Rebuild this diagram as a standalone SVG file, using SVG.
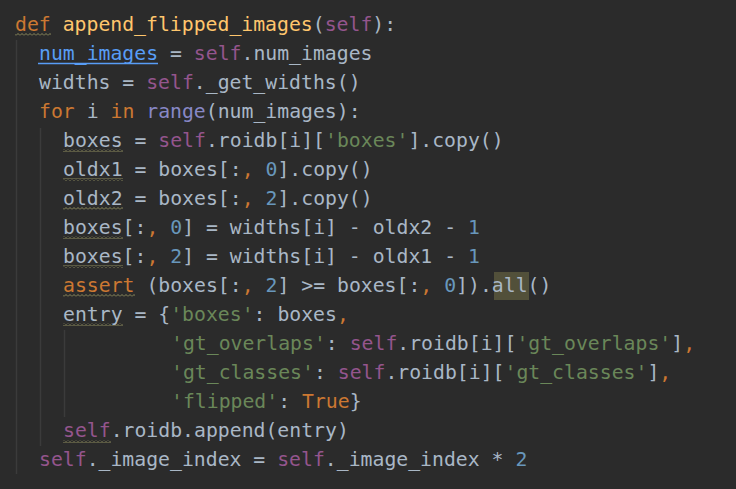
<svg xmlns="http://www.w3.org/2000/svg" width="736" height="489" viewBox="0 0 736 489">
<style>
text{font-family:"DejaVu Sans Mono","Liberation Mono",monospace;font-size:19.8px;fill:#a9b7c6;white-space:pre}
.k{fill:#cc7832}.f{fill:#ffc66d}.s{fill:#94558d}.q{fill:#6a8759}.n{fill:#6897bb}.r{fill:#8888c6}.b{fill:#589df6}
.g{stroke:#3b3b3b;stroke-width:1.5}
</style>
<defs>
<pattern id="w" width="4" height="3" patternUnits="userSpaceOnUse"><path d="M0 2.5L2 0.5L4 2.5" fill="none" stroke="#8c8a5c" stroke-width="1"/></pattern>
</defs>
<rect width="736" height="489" fill="#2b2b2b"/>
<g id="guides">
<line class="g" x1="16.5" y1="40" x2="16.5" y2="474"/>
<line class="g" x1="40.5" y1="128" x2="40.5" y2="446"/>
<line class="g" x1="64.5" y1="330" x2="64.5" y2="417"/>
</g>
<rect x="494" y="272" width="35" height="28" fill="#52503a"/>
<g id="squiggles" fill="url(#w)">
<rect x="15" y="33" width="36" height="3"/>
<rect x="63" y="149" width="60" height="3"/>
<rect x="63" y="178" width="60" height="3"/>
<rect x="63" y="207" width="60" height="3"/>
<rect x="63" y="236" width="60" height="3"/>
<rect x="63" y="265" width="60" height="3"/>
<rect x="63" y="294" width="72" height="3"/>
<rect x="63" y="323" width="60" height="3"/>
<rect x="63" y="440" width="48" height="3"/>
</g>
<line x1="38" y1="63.5" x2="158" y2="63.5" stroke="#589df6" stroke-width="1.3"/>
<g id="code">
<text x="15" y="31"><tspan class="k">def</tspan> <tspan class="f">append_flipped_images</tspan>(<tspan class="s">self</tspan>):</text>
<text x="39" y="60"><tspan class="b">num_images</tspan> = <tspan class="s">self</tspan>.num_images</text>
<text x="39" y="89">widths = <tspan class="s">self</tspan>._get_widths()</text>
<text x="39" y="118"><tspan class="k">for</tspan> i <tspan class="k">in</tspan> <tspan class="r">range</tspan>(num_images):</text>
<text x="63" y="147">boxes = <tspan class="s">self</tspan>.roidb[i][<tspan class="q">'boxes'</tspan>].copy()</text>
<text x="63" y="176">oldx1 = boxes[:<tspan class="k">,</tspan> <tspan class="n">0</tspan>].copy()</text>
<text x="63" y="205">oldx2 = boxes[:<tspan class="k">,</tspan> <tspan class="n">2</tspan>].copy()</text>
<text x="63" y="234">boxes[:<tspan class="k">,</tspan> <tspan class="n">0</tspan>] = widths[i] - oldx2 - <tspan class="n">1</tspan></text>
<text x="63" y="263">boxes[:<tspan class="k">,</tspan> <tspan class="n">2</tspan>] = widths[i] - oldx1 - <tspan class="n">1</tspan></text>
<text x="63" y="292"><tspan class="k">assert</tspan> (boxes[:<tspan class="k">,</tspan> <tspan class="n">2</tspan>] &gt;= boxes[:<tspan class="k">,</tspan> <tspan class="n">0</tspan>]).all()</text>
<text x="63" y="321">entry = {<tspan class="q">'boxes'</tspan>: boxes<tspan class="k">,</tspan></text>
<text x="171" y="350"><tspan class="q">'gt_overlaps'</tspan>: <tspan class="s">self</tspan>.roidb[i][<tspan class="q">'gt_overlaps'</tspan>]<tspan class="k">,</tspan></text>
<text x="171" y="379"><tspan class="q">'gt_classes'</tspan>: <tspan class="s">self</tspan>.roidb[i][<tspan class="q">'gt_classes'</tspan>]<tspan class="k">,</tspan></text>
<text x="171" y="408"><tspan class="q">'flipped'</tspan>: <tspan class="k">True</tspan>}</text>
<text x="63" y="437"><tspan class="s">self</tspan>.roidb.append(entry)</text>
<text x="39" y="466"><tspan class="s">self</tspan>._image_index = <tspan class="s">self</tspan>._image_index * <tspan class="n">2</tspan></text>
</g>
</svg>
